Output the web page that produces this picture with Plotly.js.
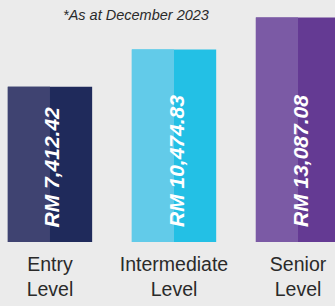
<!DOCTYPE html>
<html><head><meta charset="utf-8">
<script src="https://cdn.plot.ly/plotly-3.0.1.min.js"></script>
<style>html,body{margin:0;padding:0;background:#ebebeb;}#chart{width:335px;height:306px;}</style>
</head><body><div id="chart"></div>
<script>
var categories = ["Entry<br>Level", "Intermediate<br>Level", "Senior<br>Level"];
var salaries = [7412.42, 10474.83, 13087.08];
var valueLabels = ["RM 7,412.42", "RM 10,474.83", "RM 13,087.08"];
var darkColors = ["#1f2a5b", "#23c0e5", "#643a93"];
var lightColors = ["#3f4371", "#62cbe9", "#7b5aa5"];
var note = "*As at December 2023";

var BASE = -5300;
var baseArr = salaries.map(function(){return BASE;});
var heights = salaries.map(function(v){return v-BASE;});

var traces = [
  {type:"bar", x:categories, y:heights, base:baseArr,
   width:0.68, offset:-0.34, marker:{color:darkColors, line:{width:0}}, hoverinfo:"skip"},
  {type:"bar", x:categories, y:heights, base:baseArr,
   width:0.34, offset:-0.34, marker:{color:lightColors, line:{width:0}}, hoverinfo:"skip"}
];

var annotations = categories.map(function(c,i){
  return {x:c, y:BASE, xref:"x", yref:"y", text:valueLabels[i], showarrow:false,
    textangle:-90, xanchor:"center", yanchor:"bottom", yshift:13, xshift:2,
    font:{family:"Liberation Sans, Arial, sans-serif", size:21, color:"#ffffff", weight:"bold", style:"italic"}};
});
annotations.push({x:136/335, y:1 - 15/242, xref:"paper", yref:"paper", text:note, showarrow:false,
  xanchor:"center", yanchor:"middle",
  font:{family:"Liberation Sans, Arial, sans-serif", size:14.5, color:"#2a2a2a", style:"italic"}});

var layout = {
  width:335, height:306,
  margin:{l:0, r:0, t:0, b:64, pad:0},
  paper_bgcolor:"#ebebeb", plot_bgcolor:"#ebebeb",
  barmode:"overlay",
  showlegend:false,
  xaxis:{type:"category", range:[-0.403, 2.298], showgrid:false, zeroline:false, showline:false,
    ticks:"", ticklabelstandoff:8,
    tickfont:{family:"Liberation Sans, Arial, sans-serif", size:19.5, color:"#2a2a2a"}},
  yaxis:{range:[BASE, 14520], visible:false, showgrid:false, zeroline:false},
  annotations:annotations
};
Plotly.newPlot("chart", traces, layout, {displayModeBar:false, staticPlot:true});
</script></body></html>
